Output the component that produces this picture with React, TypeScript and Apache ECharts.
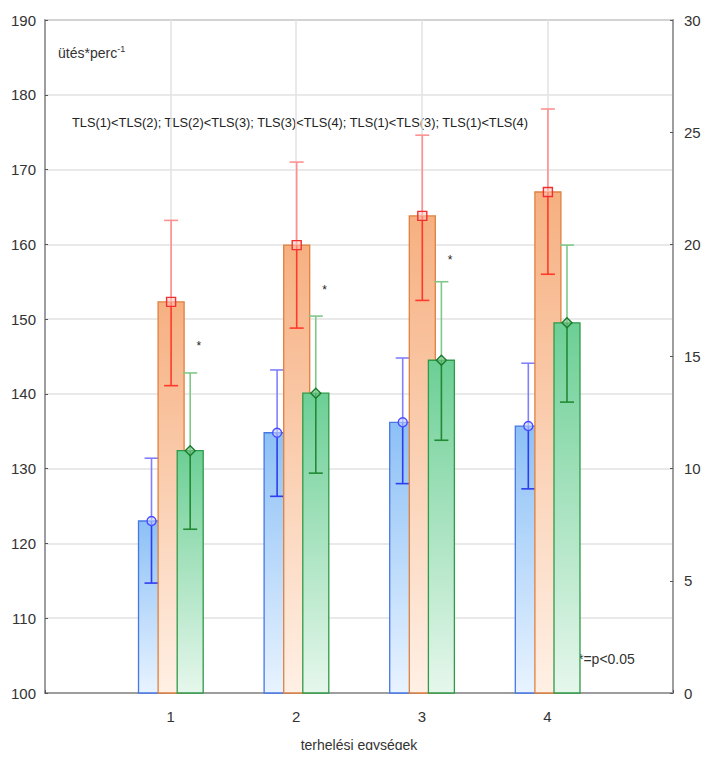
import React, { useEffect, useRef } from "react";
import * as echarts from "echarts";

const categories = [1, 2, 3, 4];
const blueMean = [123.0, 134.8, 136.2, 135.7];
const blueLow = [114.7, 126.3, 128.0, 127.3];
const blueHigh = [131.4, 143.2, 144.8, 144.1];
const orangeMean = [152.3, 159.9, 163.8, 167.0];
const orangeLow = [141.1, 148.8, 152.5, 156.0];
const orangeHigh = [163.2, 171.0, 174.6, 178.1];
const greenMean = [132.4, 140.1, 144.5, 149.5];
const greenLow = [121.9, 129.4, 133.8, 138.9];
const greenHigh = [142.8, 150.4, 155.0, 159.9];
const starValues: (number | null)[] = [146.7, 154.1, 158.2, null];

const FONT = "'Liberation Sans Narrow', 'Liberation Sans', Arial, sans-serif";

type Style = {
  offset: number;
  top: string;
  bottom: string;
  border: string;
  upper: string;
  lower: string;
  marker: "circle" | "square" | "diamond";
  markerColor: string;
};

function makeRender(s: Style) {
  return (params: any, api: any) => {
    const cat = api.value(0);
    const mean = api.value(1);
    const low = api.value(2);
    const high = api.value(3);
    const band = api.size([1, 0])[0];
    const c = api.coord([cat, mean]);
    const base = api.coord([cat, 100]);
    const cx = c[0] + s.offset * band;
    const w = 0.207 * band;
    const yl = api.coord([cat, low])[1];
    const yh = api.coord([cat, high])[1];
    const cap = 7;
    const children: any[] = [
      {
        type: "rect",
        shape: { x: cx - w / 2, y: c[1], width: w, height: base[1] - c[1] },
        style: {
          fill: new echarts.graphic.LinearGradient(0, 0, 0, 1, [
            { offset: 0, color: s.top },
            { offset: 1, color: s.bottom },
          ]),
          stroke: s.border,
          lineWidth: 1.3,
        },
      },
      { type: "line", shape: { x1: cx, y1: c[1], x2: cx, y2: yh }, style: { stroke: s.upper, lineWidth: 1.6 } },
      { type: "line", shape: { x1: cx - cap, y1: yh, x2: cx + cap, y2: yh }, style: { stroke: s.upper, lineWidth: 1.6 } },
      { type: "line", shape: { x1: cx, y1: c[1], x2: cx, y2: yl }, style: { stroke: s.lower, lineWidth: 1.6 } },
      { type: "line", shape: { x1: cx - cap, y1: yl, x2: cx + cap, y2: yl }, style: { stroke: s.lower, lineWidth: 1.6 } },
    ];
    if (s.marker === "circle") {
      children.push({ type: "circle", shape: { cx, cy: c[1], r: 4.5 }, style: { fill: "rgba(200,215,255,0.6)", stroke: s.markerColor, lineWidth: 1.4 } });
    } else if (s.marker === "square") {
      children.push({ type: "rect", shape: { x: cx - 4.5, y: c[1] - 4.5, width: 9, height: 9 }, style: { fill: "rgba(255,200,190,0.5)", stroke: s.markerColor, lineWidth: 1.4 } });
    } else {
      children.push({
        type: "polygon",
        shape: { points: [[cx, c[1] - 5], [cx + 5, c[1]], [cx, c[1] + 5], [cx - 5, c[1]]] },
        style: { fill: "rgba(120,200,140,0.6)", stroke: s.markerColor, lineWidth: 1.4 },
      });
    }
    return { type: "group", children };
  };
}

function rows(mean: number[], low: number[], high: number[]) {
  return categories.map((c, i) => [c, mean[i], low[i], high[i]]);
}

export default function App() {
  const ref = useRef<HTMLDivElement>(null);
  useEffect(() => {
    if (!ref.current) return;
    const chart = echarts.init(ref.current, null, { renderer: "svg" });
    const starData = categories
      .map((c, i) => [c, starValues[i]])
      .filter((d) => d[1] !== null);
    chart.setOption({
      animation: false,
      backgroundColor: "#ffffff",
      grid: { left: 45, right: 38, top: 20, bottom: 65, show: true, borderColor: "#8c8c8c", borderWidth: 1.5, backgroundColor: "transparent" },
      xAxis: {
        type: "value",
        min: 0,
        max: 5,
        interval: 1,
        name: "terhelési egységek",
        nameLocation: "middle",
        nameGap: 45,
        nameTextStyle: { fontFamily: FONT, fontSize: 14, color: "#333" },
        axisLine: { show: true, lineStyle: { color: "#8c8c8c", width: 1.5 } },
        axisTick: { show: true, inside: true, length: 3, lineStyle: { color: "#555" } },
        axisLabel: {
          fontFamily: FONT,
          fontSize: 15,
          color: "#333",
          margin: 16,
          formatter: (v: number) => (v >= 1 && v <= 4 ? String(v) : ""),
        },
        splitLine: { show: true, lineStyle: { color: "#e2e2e2", width: 1.5 } },
      },
      yAxis: [
        {
          type: "value",
          min: 100,
          max: 190,
          interval: 10,
          position: "left",
          axisLine: { show: true, lineStyle: { color: "#8c8c8c", width: 1.5 } },
          axisTick: { show: true, inside: true, length: 3, lineStyle: { color: "#555" } },
          axisLabel: { fontFamily: FONT, fontSize: 15, color: "#333", margin: 9 },
          splitLine: { show: true, lineStyle: { color: "#e2e2e2", width: 1.5 } },
        },
        {
          type: "value",
          min: 0,
          max: 30,
          interval: 5,
          position: "right",
          axisLine: { show: true, lineStyle: { color: "#8c8c8c", width: 1.5 } },
          axisTick: { show: true, inside: true, length: 3, lineStyle: { color: "#555" } },
          axisLabel: { fontFamily: FONT, fontSize: 15, color: "#333", margin: 11 },
          splitLine: { show: false },
        },
      ],
      graphic: [
        {
          type: "text",
          left: 58,
          top: 44,
          style: {
            text: "{a|ütés*perc}{b|-1}",
            rich: {
              a: { fontFamily: FONT, fontSize: 14, fill: "#333" },
              b: { fontFamily: FONT, fontSize: 9, fill: "#333", verticalAlign: "top", padding: [0, 0, 8, 0] },
            },
          },
        },
        {
          type: "text",
          left: 72,
          top: 116,
          style: {
            text: "TLS(1)<TLS(2); TLS(2)<TLS(3); TLS(3)<TLS(4); TLS(1)<TLS(3); TLS(1)<TLS(4)",
            fontFamily: FONT,
            fontSize: 12.8,
            fill: "#222",
          },
        },
        {
          type: "text",
          left: 578,
          top: 652,
          style: { text: "*=p<0.05", fontFamily: FONT, fontSize: 14, fill: "#333" },
        },
      ],
      series: [
        {
          type: "custom",
          renderItem: makeRender({ offset: -0.152, top: "#8cc0f6", bottom: "#e8f3ff", border: "#4677e6", upper: "#8080ff", lower: "#2f3cf0", marker: "circle", markerColor: "#4a4aff" }),
          data: rows(blueMean, blueLow, blueHigh),
          encode: { x: 0, y: 1 },
          z: 2,
        },
        {
          type: "custom",
          renderItem: makeRender({ offset: 0.004, top: "#f6b081", bottom: "#fff0e5", border: "#e0803e", upper: "#ff9090", lower: "#ff3a2a", marker: "square", markerColor: "#f03030" }),
          data: rows(orangeMean, orangeLow, orangeHigh),
          encode: { x: 0, y: 1 },
          z: 3,
        },
        {
          type: "custom",
          renderItem: makeRender({ offset: 0.156, top: "#6ccf95", bottom: "#e6f7ec", border: "#2f9a48", upper: "#80c888", lower: "#228a35", marker: "diamond", markerColor: "#1b7a2c" }),
          data: rows(greenMean, greenLow, greenHigh),
          encode: { x: 0, y: 1 },
          z: 4,
        },
        {
          type: "custom",
          renderItem: (params: any, api: any) => {
            const band = api.size([1, 0])[0];
            const p = api.coord([api.value(0), api.value(1)]);
            return {
              type: "text",
              x: p[0] + 0.225 * band,
              y: p[1] + 2,
              style: { text: "*", fontFamily: FONT, fontSize: 12, fill: "#222", align: "center", verticalAlign: "middle" },
            };
          },
          data: starData,
          encode: { x: 0, y: 1 },
          z: 5,
        },
      ],
    });
    return () => chart.dispose();
  }, []);
  return <div ref={ref} style={{ width: 711, height: 758, margin: -8 }} />;
}
